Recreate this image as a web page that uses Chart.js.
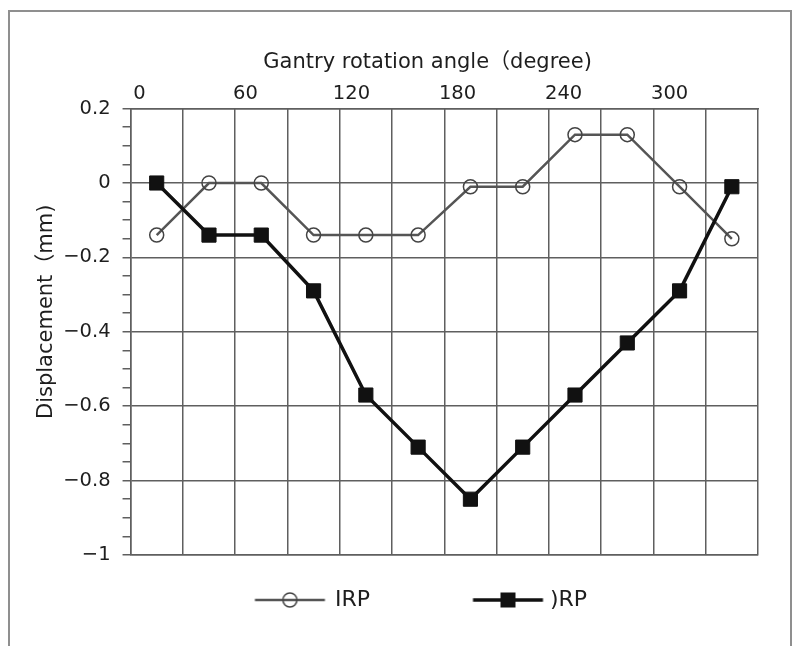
<!DOCTYPE html>
<html><head><meta charset="utf-8">
<script src="https://cdn.jsdelivr.net/npm/chart.js@4.4.0/dist/chart.umd.min.js"></script>
<style>
html,body{margin:0;padding:0;background:#fff;}
#wrap{position:relative;width:795px;height:646px;overflow:hidden;}
#frame{position:absolute;left:8px;top:10px;width:784px;height:700px;border:2px solid #8f8f8f;box-sizing:border-box;}
canvas{position:absolute;left:0;top:0;}
</style></head><body>
<div id="wrap"><div id="frame"></div><canvas id="c" width="795" height="646"></canvas></div>
<script>
// ---- data ----
const categories = ['0','30','60','90','120','150','180','210','240','270','300','330'];
const irpValues = [-0.14, 0, 0, -0.14, -0.14, -0.14, -0.01, -0.01, 0.13, 0.13, -0.01, -0.15];
const drpValues = [0, -0.14, -0.14, -0.29, -0.57, -0.71, -0.85, -0.71, -0.57, -0.43, -0.29, -0.01];
const angleTickLabels = [0, 60, 120, 180, 240, 300];
const yMajorTicks = [-1, -0.8, -0.6, -0.4, -0.2, 0, 0.2];
const seriesNames = ['IRP', ')RP'];
const xTitle = 'Gantry rotation angle（degree)';
const yTitle = 'Displacement（mm)';

const FONT = "'DejaVu Sans', 'Noto Sans CJK JP', sans-serif";
const gridGray = '#5f5f5f';
const textColor = '#1e1e1e';

function isMajor(v){ return yMajorTicks.some(m => Math.abs(m - v) < 1e-9); }
function fmtY(v){
  if (Math.abs(v) < 1e-9) return '0';
  const a = Math.abs(v);
  const s = Math.abs(a - Math.round(a)) < 1e-9 ? String(Math.round(a)) : a.toFixed(1);
  return (v < 0 ? '\u2212' : '') + s;
}

function legendSymbol(kind){
  const c = document.createElement('canvas');
  c.width = 150; c.height = 20;
  const g = c.getContext('2d');
  const off = kind === 'circle' ? 73.5 : 76.5;
  g.lineWidth = kind === 'circle' ? 2.5 : 3.5;
  g.strokeStyle = kind === 'circle' ? '#555' : '#111';
  g.beginPath(); g.moveTo(off, 10); g.lineTo(off + 70, 10); g.stroke();
  const cx = off + 35;
  if (kind === 'circle'){
    g.lineWidth = 1.5; g.strokeStyle = '#444';
    g.beginPath(); g.arc(cx, 10, 7, 0, Math.PI * 2); g.stroke();
  } else {
    g.fillStyle = '#111'; g.fillRect(cx - 7.5, 2.5, 15, 15);
  }
  return c;
}
const symIRP = legendSymbol('circle');
const symDRP = legendSymbol('rect');

new Chart(document.getElementById('c').getContext('2d'), {
  type: 'line',
  data: {
    labels: categories,
    datasets: [
      { label: seriesNames[0], data: irpValues, borderColor: '#555', borderWidth: 2.5,
        pointStyle: 'circle', pointRadius: 7, pointBorderWidth: 1.5, pointBorderColor: '#444',
        pointBackgroundColor: 'rgba(255,255,255,0)', tension: 0, order: 2, xAxisID: 'x', yAxisID: 'y' },
      { label: seriesNames[1], data: drpValues, borderColor: '#111', borderWidth: 3.5,
        pointStyle: 'rect', pointRadius: 10, pointBorderWidth: 1, pointBorderColor: '#111',
        pointBackgroundColor: '#111', tension: 0, order: 1, xAxisID: 'x', yAxisID: 'y' }
    ]
  },
  options: {
    responsive: false, animation: false, devicePixelRatio: 1,
    layout: { padding: { left: 18, right: 37, top: 42, bottom: 25 } },
    plugins: {
      tooltip: { enabled: false },
      legend: {
        position: 'bottom',
        labels: {
          usePointStyle: true, pointStyleWidth: 135, padding: 34,
          font: { family: FONT, size: 22 }, color: textColor,
          generateLabels: () => [
            { text: seriesNames[0], pointStyle: symIRP, datasetIndex: 0, hidden: false, fillStyle: '#fff', strokeStyle: '#fff', lineWidth: 0, fontColor: textColor },
            { text: seriesNames[1], pointStyle: symDRP, datasetIndex: 1, hidden: false, fillStyle: '#fff', strokeStyle: '#fff', lineWidth: 0, fontColor: textColor }
          ]
        }
      }
    },
    scales: {
      x: {
        type: 'category', position: 'bottom', offset: true,
        grid: { offset: true, color: gridGray, lineWidth: 1.5, drawTicks: false },
        border: { display: true, color: gridGray, width: 1.5 },
        ticks: { display: false }
      },
      xTop: {
        type: 'linear', position: 'top', min: -5, max: 350,
        afterBuildTicks: s => { s.ticks = angleTickLabels.map(v => ({ value: v })); },
        grid: { display: false, drawTicks: false },
        border: { display: true, color: gridGray, width: 1.5 },
        ticks: { padding: 3, autoSkip: false, maxRotation: 0, font: { family: FONT, size: 19.5 }, color: textColor, callback: v => String(v) },
        title: { display: true, text: xTitle + '     ', font: { family: FONT, size: 21 }, color: textColor, padding: { top: 8, bottom: 4 } }
      },
      y: {
        type: 'linear', position: 'left', min: -1, max: 0.2,
        afterBuildTicks: s => {
          const t = [];
          for (let i = 0; i <= 24; i++) t.push({ value: Math.round((-1 + i * 0.05) * 100) / 100 });
          s.ticks = t;
        },
        ticks: { autoSkip: false, padding: 12, font: { family: FONT, size: 19.5 }, color: textColor,
                 callback: v => isMajor(v) ? fmtY(v) : '' },
        grid: { color: c => (c.tick && isMajor(c.tick.value)) ? gridGray : 'rgba(0,0,0,0)',
                lineWidth: 1.5, tickColor: gridGray, tickWidth: 1.5, tickLength: 8, drawTicks: true },
        border: { display: true, color: gridGray, width: 1.5 },
        title: { display: true, text: '      ' + yTitle, font: { family: FONT, size: 21 }, color: textColor, padding: { top: 16, bottom: -8 } }
      }
    }
  }
});
</script>
</body></html>
